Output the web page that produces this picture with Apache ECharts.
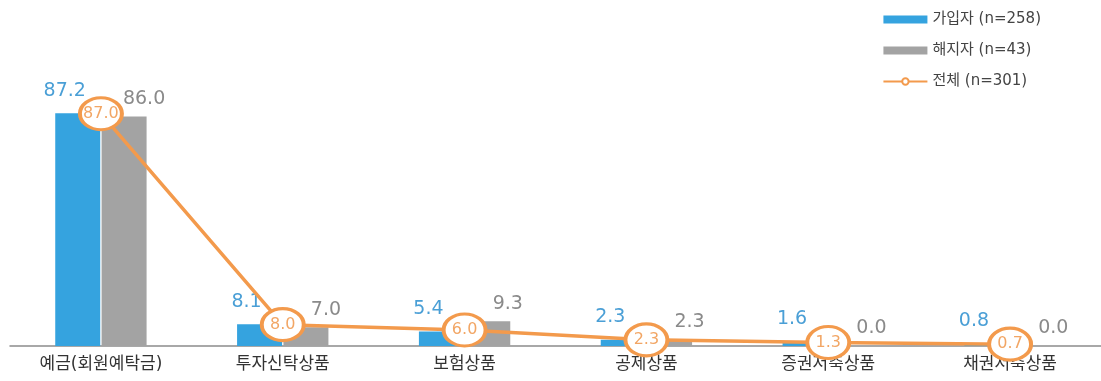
<!DOCTYPE html>
<html>
<head>
<meta charset="utf-8">
<script src="https://cdn.jsdelivr.net/npm/echarts@6/dist/echarts.min.js"></script>
<style>
  html, body { margin: 0; padding: 0; background: #fff; }
  #chart { width: 1101px; height: 381px; }
</style>
</head>
<body>
<div id="chart"></div>
<script>
// Financial product categories
const categories = ['예금(회원예탁금)', '투자신탁상품', '보험상품', '공제상품', '증권저축상품', '채권저축상품'];
// Shares (%) by group
const joined = [87.2, 8.1, 5.4, 2.3, 1.6, 0.8];
const cancelled = [86.0, 7.0, 9.3, 2.3, 0.0, 0.0];
const total = [87.0, 8.0, 6.0, 2.3, 1.3, 0.7];
const seriesNames = ['가입자 (n=258)', '해지자 (n=43)', '전체 (n=301)'];

// Wide Latin glyphs first, Hangul falls back to Noto CJK
const FONT = '"DejaVu Sans", "Noto Sans CJK KR", sans-serif';
const BLUE = '#35a3df';
const GRAY = '#a3a3a3';
const ORANGE = '#f39a4c';

const chart = echarts.init(document.getElementById('chart'));
chart.setOption({
  animation: false,
  textStyle: { fontFamily: FONT },
  grid: { left: 10, right: 0, top: 79, bottom: 35, containLabel: false },
  legend: {
    orient: 'vertical',
    right: 55,
    top: 7,
    itemGap: 16,
    itemWidth: 44,
    itemHeight: 8,
    textStyle: { fontFamily: FONT, fontSize: 15, color: '#444' },
    data: [
      { name: seriesNames[0], icon: 'rect', itemStyle: { color: BLUE } },
      { name: seriesNames[1], icon: 'rect', itemStyle: { color: GRAY } },
      { name: seriesNames[2] }
    ]
  },
  xAxis: {
    type: 'category',
    data: categories,
    axisLine: { lineStyle: { color: '#8c8c8c', width: 1.5 } },
    axisTick: { show: false },
    axisLabel: { fontFamily: FONT, fontSize: 17, color: '#333', margin: 10 }
  },
  yAxis: {
    type: 'value',
    min: 0,
    max: 100,
    show: false,
    splitLine: { show: false }
  },
  series: [
    {
      name: seriesNames[0],
      type: 'bar',
      data: joined,
      barWidth: 45,
      barGap: '3%',
      itemStyle: { color: BLUE },
      label: {
        show: true,
        position: 'top',
        offset: [-13, -8],
        formatter: p => p.value.toFixed(1),
        fontFamily: FONT,
        fontSize: 19,
        color: '#4a9fd6'
      },
      z: 2
    },
    {
      name: seriesNames[1],
      type: 'bar',
      data: cancelled,
      barWidth: 45,
      barGap: '3%',
      itemStyle: { color: GRAY },
      label: {
        show: true,
        position: 'top',
        offset: [20, -3],
        formatter: p => p.value.toFixed(1),
        fontFamily: FONT,
        fontSize: 19,
        color: '#8a8a8a'
      },
      z: 2
    },
    {
      name: seriesNames[2],
      type: 'line',
      data: total,
      symbol: 'circle',
      symbolSize: [42, 32],
      lineStyle: { color: ORANGE, width: 3.5 },
      itemStyle: { color: '#fff', borderColor: ORANGE, borderWidth: 3.5 },
      label: {
        show: true,
        position: 'inside',
        formatter: p => p.value.toFixed(1),
        fontFamily: FONT,
        fontSize: 16,
        color: '#f2a665'
      },
      z: 5
    }
  ]
});
</script>
</body>
</html>
